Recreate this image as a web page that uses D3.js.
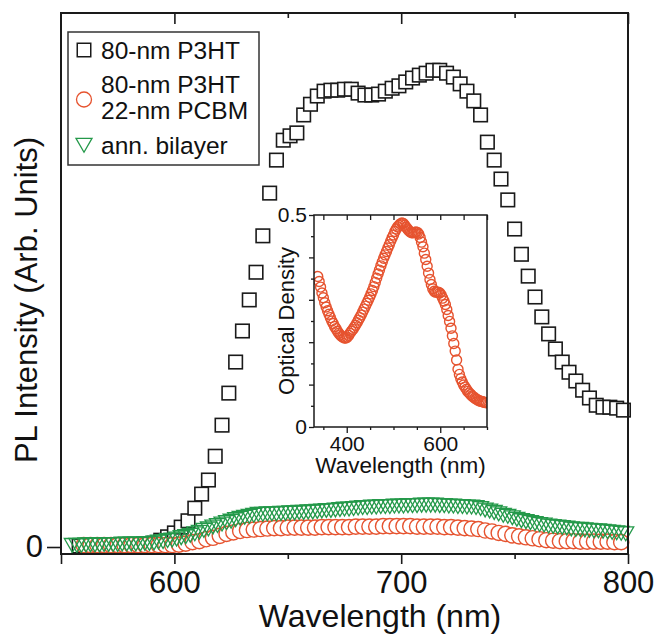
<!DOCTYPE html>
<html>
<head>
<meta charset="utf-8">
<title>PL spectra</title>
<script src="https://d3js.org/d3.v7.min.js"></script>
<style>
  body { margin: 0; background: #fff; }
  svg { display: block; font-family: "Liberation Sans", Arial, Helvetica, sans-serif; }
  .axis path { display: none; }
  .axis line { stroke: #1a1a1a; stroke-width: 1.6px; }
  .axis text { fill: #111; }
  .inset .axis line { stroke-width: 1.3px; }
</style>
</head>
<body>
<script>
// ---- data ----
// 80-nm P3HT (squares)
var p3htWl = [558,561,564,567,570,573,576,579,582,585,588,591,594,597,600,603,606,609,612,615,618,621,624,627,630,633,636,639,642,645,648,651,654,657,660,663,666,669,672,675,678,681,684,687,690,693,696,699,702,705,708,711,714,717,720,723,726,729,732,735,738,741,744,747,750,753,756,759,762,765,768,771,774,777,780,783,786,789,792,795,798];
var p3htPL = [0.002,0.002,0.002,0.002,0.002,0.002,0.003,0.003,0.004,0.004,
  0.006,0.008,0.014,0.021,0.029,0.041,0.054,0.080,0.109,0.138,
  0.187,0.251,0.317,0.381,0.445,0.509,0.566,0.641,0.729,0.797,
  0.838,0.847,0.853,0.890,0.912,0.929,0.939,0.941,0.941,0.943,
  0.943,0.935,0.931,0.931,0.933,0.939,0.945,0.950,0.958,0.966,
  0.972,0.976,0.982,0.982,0.976,0.968,0.954,0.939,0.919,0.890,
  0.834,0.797,0.758,0.715,0.655,0.603,0.558,0.515,0.474,0.439,
  0.408,0.381,0.360,0.342,0.323,0.307,0.292,0.288,0.288,0.286,
  0.282];

// 80-nm P3HT / 22-nm PCBM (circles)
var bilayerWl = [560,563,566,569,572,575,578,581,584,587,590,593,596,599,602,605,608,611,614,617,620,623,626,629,632,635,638,641,644,647,650,653,656,659,662,665,668,671,674,677,680,683,686,689,692,695,698,701,704,707,710,713,716,719,722,725,728,731,734,737,740,743,746,749,752,755,758,761,764,767,770,773,776,779,782,785,788,791,794,797];
var bilayerPL = [0.004,0.004,0.004,0.004,0.004,0.004,0.004,0.004,0.004,0.004,
  0.004,0.004,0.004,0.004,0.005,0.007,0.010,0.012,0.016,0.019,
  0.023,0.027,0.030,0.033,0.035,0.036,0.037,0.038,0.039,0.039,
  0.040,0.040,0.040,0.040,0.040,0.041,0.041,0.041,0.041,0.041,
  0.042,0.042,0.042,0.042,0.043,0.043,0.043,0.043,0.043,0.042,
  0.042,0.042,0.042,0.041,0.041,0.040,0.039,0.038,0.037,0.034,
  0.032,0.029,0.027,0.024,0.022,0.020,0.018,0.016,0.014,0.013,
  0.012,0.012,0.012,0.011,0.011,0.011,0.011,0.011,0.010,0.010];

// annealed bilayer (triangles)
var annWl = [555,557,559,561,563,565,567,569,571,573,575,577,579,581,583,585,587,589,591,593,595,597,599,601,603,605,607,609,611,613,615,617,619,621,623,625,627,629,631,633,635,637,639,641,643,645,647,649,651,653,655,657,659,661,663,665,667,669,671,673,675,677,679,681,683,685,687,689,691,693,695,697,699,701,703,705,707,709,711,713,715,717,719,721,723,725,727,729,731,733,735,737,739,741,743,745,747,749,751,753,755,757,759,761,763,765,767,769,771,773,775,777,779,781,783,785,787,789,791,793,795,797,799];
var annPL = [0.008,0.008,0.008,0.009,0.009,0.009,0.009,0.010,0.010,0.010,
  0.010,0.011,0.011,0.011,0.011,0.011,0.012,0.012,0.013,0.015,
  0.016,0.018,0.019,0.021,0.024,0.026,0.029,0.032,0.035,0.039,
  0.042,0.046,0.049,0.052,0.055,0.058,0.061,0.064,0.066,0.068,
  0.070,0.072,0.072,0.073,0.073,0.073,0.074,0.074,0.075,0.075,
  0.076,0.076,0.077,0.077,0.078,0.079,0.080,0.080,0.081,0.082,
  0.083,0.083,0.084,0.085,0.086,0.086,0.087,0.087,0.088,0.088,
  0.088,0.089,0.089,0.089,0.090,0.090,0.090,0.091,0.091,0.091,
  0.091,0.090,0.090,0.089,0.089,0.088,0.088,0.087,0.087,0.086,
  0.084,0.081,0.079,0.076,0.073,0.070,0.068,0.065,0.062,0.059,
  0.057,0.055,0.053,0.051,0.050,0.048,0.047,0.046,0.045,0.044,
  0.042,0.041,0.041,0.040,0.039,0.038,0.038,0.037,0.036,0.035,
  0.034,0.033,0.032];

// inset: absorption of the bilayer
var odWl = [338,341,344,347,350,353,356,359,362,365,368,371,374,377,380,383,386,389,392,395,398,401,404,407,410,413,416,419,422,425,428,431,434,437,440,443,446,449,452,455,458,461,464,467,470,473,476,479,482,485,488,491,494,497,500,503,506,509,512,515,518,521,524,527,530,533,536,539,542,545,548,551,554,557,560,563,566,569,572,575,578,581,584,587,590,593,596,599,602,605,608,611,614,617,620,623,626,629,632,635,638,641,644,647,650,653,656,659,662,665,668,671,674,677,680,683,686,689,692,695,698];
var odVal = [0.355,0.343,0.330,0.316,0.305,0.293,0.283,0.274,0.266,0.258,
  0.250,0.244,0.237,0.232,0.226,0.221,0.217,0.214,0.212,0.210,
  0.210,0.212,0.216,0.221,0.226,0.230,0.235,0.240,0.246,0.252,
  0.258,0.264,0.271,0.278,0.285,0.292,0.299,0.306,0.314,0.322,
  0.331,0.341,0.351,0.361,0.370,0.380,0.389,0.398,0.406,0.414,
  0.422,0.430,0.438,0.446,0.453,0.461,0.467,0.472,0.476,0.479,
  0.481,0.480,0.476,0.471,0.467,0.463,0.460,0.458,0.458,0.459,
  0.460,0.459,0.455,0.447,0.436,0.425,0.410,0.395,0.379,0.363,
  0.348,0.336,0.326,0.320,0.318,0.318,0.318,0.316,0.311,0.304,
  0.297,0.289,0.277,0.263,0.249,0.233,0.215,0.197,0.179,0.158,
  0.136,0.124,0.114,0.106,0.099,0.094,0.089,0.084,0.080,0.077,
  0.073,0.071,0.068,0.066,0.064,0.062,0.061,0.060,0.059,0.058,
  0.057];

// ticks and labels
var xLabelled = [600, 700, 800];
var xMinor = [650, 750];
var insetXLabelled = [400, 600];
var insetXMinor = [350, 450, 500, 550, 650, 700];
var insetYMajor = [0, 0.1, 0.2, 0.3, 0.4, 0.5];
var insetYMinor = [0.05, 0.15, 0.25, 0.35, 0.45];
var legendLines = ["80-nm P3HT", "80-nm P3HT", "22-nm PCBM", "ann. bilayer"];

var black = "#1a1a1a", red = "#e6532f", green = "#24994a";

// ---- layout ----
var width = 656, height = 635;
var plot = {left: 61, right: 628, top: 13, bottom: 554};

var svg = d3.select("body").append("svg")
    .attr("width", width)
    .attr("height", height);

var x = d3.scaleLinear().domain([550, 800]).range([plot.left, plot.right]);
var y = d3.scaleLinear().domain([-0.0144, 1.1]).range([plot.bottom, plot.top]);

function zip(a, b) { return a.map(function(d, i) { return [d, b[i]]; }); }

// squares first, white filled so each one hides part of the one before
svg.append("g").selectAll("rect")
    .data(zip(p3htWl, p3htPL))
    .enter().append("rect")
    .attr("x", function(d) { return x(d[0]) - 6.75; })
    .attr("y", function(d) { return y(d[1]) - 6.75; })
    .attr("width", 13.5).attr("height", 13.5)
    .attr("fill", "white")
    .attr("stroke", black)
    .attr("stroke-width", 1.6);

svg.append("g").selectAll("circle")
    .data(zip(bilayerWl, bilayerPL))
    .enter().append("circle")
    .attr("cx", function(d) { return x(d[0]); })
    .attr("cy", function(d) { return y(d[1]); })
    .attr("r", 7.6)
    .attr("fill", "white")
    .attr("stroke", red)
    .attr("stroke-width", 1.4);

var tri = d3.symbol().type(d3.symbolTriangle).size(111);
svg.append("g").selectAll("path")
    .data(zip(annWl, annPL))
    .enter().append("path")
    .attr("d", tri)
    .attr("transform", function(d) { return "translate(" + x(d[0]) + "," + y(d[1]) + ") rotate(180)"; })
    .attr("fill", "none")
    .attr("stroke", green)
    .attr("stroke-width", 1.3);

// ---- main axes ----
var gx = svg.append("g").attr("class", "axis")
    .attr("transform", "translate(0," + plot.bottom + ")")
    .call(d3.axisBottom(x).tickValues([550].concat(xLabelled)).tickSize(10).tickPadding(7)
        .tickFormat(function(d) { return d == 550 ? "" : d; }));
gx.selectAll("text").style("font-size", "31px");
svg.append("g").attr("class", "axis")
    .attr("transform", "translate(0," + plot.bottom + ")")
    .call(d3.axisBottom(x).tickValues(xMinor).tickSize(5).tickFormat(""));

svg.append("g").attr("class", "axis")
    .attr("transform", "translate(0," + plot.top + ")")
    .call(d3.axisTop(x).tickValues(xLabelled).tickSize(-11).tickFormat(""));
svg.append("g").attr("class", "axis")
    .attr("transform", "translate(0," + plot.top + ")")
    .call(d3.axisTop(x).tickValues(xMinor).tickSize(-5).tickFormat(""));

var gy = svg.append("g").attr("class", "axis")
    .attr("transform", "translate(" + plot.left + ",0)")
    .call(d3.axisLeft(y).tickValues([0]).tickSize(14).tickPadding(4)
        .tickFormat(function(d) { return d; }));
gy.selectAll("text").style("font-size", "31px");

svg.append("rect")
    .attr("x", plot.left).attr("y", plot.top)
    .attr("width", plot.right - plot.left).attr("height", plot.bottom - plot.top)
    .attr("fill", "none").attr("stroke", black).attr("stroke-width", 2);

svg.append("text")
    .attr("x", 380).attr("y", 627)
    .attr("text-anchor", "middle").style("font-size", "32px").attr("fill", "#111")
    .text("Wavelength (nm)");

svg.append("text")
    .attr("transform", "translate(37,300) rotate(-90)")
    .attr("text-anchor", "middle").style("font-size", "31px").attr("fill", "#111")
    .text("PL Intensity (Arb. Units)");

// ---- legend ----
var legend = svg.append("g");
legend.append("rect")
    .attr("x", 68).attr("y", 32).attr("width", 191).attr("height", 133)
    .attr("fill", "white").attr("stroke", "#333").attr("stroke-width", 1.5);
legend.selectAll("text")
    .data(legendLines)
    .enter().append("text")
    .attr("x", 101)
    .attr("y", function(d, i) { return [59, 93, 119, 154][i]; })
    .style("font-size", "24.5px").attr("fill", "#111")
    .text(function(d) { return d; });
legend.append("rect")
    .attr("x", 84 - 6.75).attr("y", 50 - 6.75).attr("width", 13.5).attr("height", 13.5)
    .attr("fill", "white").attr("stroke", black).attr("stroke-width", 1.5);
legend.append("circle")
    .attr("cx", 84).attr("cy", 99.5).attr("r", 7.5)
    .attr("fill", "none").attr("stroke", red).attr("stroke-width", 1.3);
legend.append("path")
    .attr("d", tri)
    .attr("transform", "translate(84,143) rotate(180)")
    .attr("fill", "none").attr("stroke", green).attr("stroke-width", 1.3);

// ---- inset ----
var ib = {left: 314, right: 487, top: 215, bottom: 427};
var xi = d3.scaleLinear().domain([330, 700]).range([ib.left, ib.right]);
var yi = d3.scaleLinear().domain([0, 0.5]).range([ib.bottom, ib.top]);

var inset = svg.append("g").attr("class", "inset");
inset.append("rect")
    .attr("x", ib.left).attr("y", ib.top)
    .attr("width", ib.right - ib.left).attr("height", ib.bottom - ib.top)
    .attr("fill", "white");

inset.append("clipPath").attr("id", "insetClip")
  .append("rect")
    .attr("x", ib.left).attr("y", ib.top - 6)
    .attr("width", ib.right - ib.left).attr("height", ib.bottom - ib.top + 6);

inset.append("g").attr("clip-path", "url(#insetClip)")
  .selectAll("circle")
    .data(zip(odWl, odVal))
    .enter().append("circle")
    .attr("cx", function(d) { return xi(d[0]); })
    .attr("cy", function(d) { return yi(d[1]); })
    .attr("r", 5)
    .attr("fill", "none")
    .attr("stroke", red)
    .attr("stroke-width", 1.4);

var ibx = inset.append("g").attr("class", "axis")
    .attr("transform", "translate(0," + ib.bottom + ")")
    .call(d3.axisBottom(xi).tickValues(insetXLabelled).tickSize(6).tickPadding(3));
ibx.selectAll("text").style("font-size", "21px");
inset.append("g").attr("class", "axis")
    .attr("transform", "translate(0," + ib.bottom + ")")
    .call(d3.axisBottom(xi).tickValues(insetXMinor).tickSize(3).tickFormat(""));
inset.append("g").attr("class", "axis")
    .attr("transform", "translate(0," + ib.top + ")")
    .call(d3.axisTop(xi).tickValues(insetXLabelled.concat(insetXMinor)).tickSize(-5).tickFormat(""));

var iby = inset.append("g").attr("class", "axis")
    .attr("transform", "translate(" + ib.left + ",0)")
    .call(d3.axisLeft(yi).tickValues(insetYMajor).tickSize(5).tickPadding(2)
        .tickFormat(function(d) { return (d == 0 || d == 0.5) ? d : ""; }));
iby.selectAll("text").style("font-size", "21px");
inset.append("g").attr("class", "axis")
    .attr("transform", "translate(" + ib.left + ",0)")
    .call(d3.axisLeft(yi).tickValues(insetYMinor).tickSize(3).tickFormat(""));

inset.append("rect")
    .attr("x", ib.left).attr("y", ib.top)
    .attr("width", ib.right - ib.left).attr("height", ib.bottom - ib.top)
    .attr("fill", "none").attr("stroke", black).attr("stroke-width", 1.5);

inset.append("text")
    .attr("x", (ib.left + ib.right) / 2).attr("y", 473)
    .attr("text-anchor", "middle").style("font-size", "22.5px").attr("fill", "#111")
    .text("Wavelength (nm)");
inset.append("text")
    .attr("transform", "translate(294,321) rotate(-90)")
    .attr("text-anchor", "middle").style("font-size", "22px").attr("fill", "#111")
    .text("Optical Density");
</script>
</body>
</html>
